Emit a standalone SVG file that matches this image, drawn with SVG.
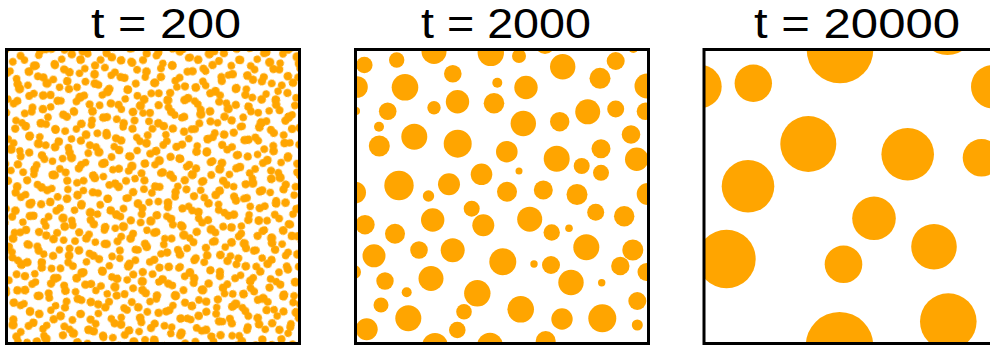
<svg xmlns="http://www.w3.org/2000/svg" width="990" height="347" viewBox="0 0 990 347">
<style>
.t{font-family:"Liberation Sans",Arial,sans-serif;font-size:42px;fill:#000}
.d circle{fill:#FFA500}
.p circle{fill:#FFA500;stroke:#FFA500;stroke-width:1}
.frame{fill:none;stroke:#000;stroke-width:3}
</style>
<defs>
<pattern id="dotsA" patternUnits="userSpaceOnUse" x="7" y="50" width="61" height="61" patternTransform="rotate(8)">
<g class="p">
<circle cx="5.2" cy="9.8" r="3.7"/><circle cx="25.6" cy="6.1" r="3.4"/><circle cx="36.0" cy="10.4" r="4.0"/><circle cx="55.9" cy="5.6" r="3.5"/>
<circle cx="9.9" cy="21.0" r="3.9"/><circle cx="20.4" cy="25.7" r="3.5"/><circle cx="41.2" cy="20.3" r="3.6"/><circle cx="51.1" cy="25.9" r="4.1"/>
<circle cx="6.4" cy="41.3" r="3.4"/><circle cx="24.8" cy="35.2" r="4.1"/><circle cx="35.3" cy="40.9" r="3.6"/><circle cx="56.2" cy="37.0" r="3.8"/>
<circle cx="10.6" cy="54.7" r="3.8"/><circle cx="21.0" cy="50.6" r="3.6"/><circle cx="39.9" cy="56.3" r="3.5"/><circle cx="50.7" cy="52.1" r="3.9"/>
</g>
</pattern>
<pattern id="dotsB" patternUnits="userSpaceOnUse" x="3" y="41" width="53" height="53" patternTransform="rotate(-13)">
<g class="p">
<circle cx="8.9" cy="4.8" r="3.5"/><circle cx="17.6" cy="8.7" r="3.9"/><circle cx="35.4" cy="4.4" r="3.4"/><circle cx="44.2" cy="8.3" r="3.7"/>
<circle cx="4.5" cy="18.0" r="3.6"/><circle cx="22.3" cy="21.6" r="3.4"/><circle cx="30.5" cy="17.2" r="3.8"/><circle cx="48.6" cy="22.1" r="3.5"/>
<circle cx="9.1" cy="35.3" r="4.0"/><circle cx="17.4" cy="31.0" r="3.5"/><circle cx="35.9" cy="34.8" r="3.7"/><circle cx="43.8" cy="30.6" r="3.4"/>
<circle cx="5.0" cy="48.3" r="3.4"/><circle cx="21.9" cy="44.2" r="3.7"/><circle cx="31.0" cy="48.4" r="3.5"/><circle cx="48.4" cy="45.0" r="3.9"/>
</g>
</pattern>
<clipPath id="c2"><rect x="355.5" y="49.5" width="293" height="294"/></clipPath>
<clipPath id="c3"><rect x="704" y="49.5" width="293" height="294"/></clipPath>
</defs>
<rect width="990" height="347" fill="#fff"/>
<g id="titles">
<text class="t" x="91" y="38" textLength="150" lengthAdjust="spacingAndGlyphs">t = 200</text>
<text class="t" x="421" y="38" textLength="170" lengthAdjust="spacingAndGlyphs">t = 2000</text>
<text class="t" x="754" y="38" textLength="206" lengthAdjust="spacingAndGlyphs">t = 20000</text>
</g>
<g id="panel1">
<rect x="6.5" y="49.5" width="293" height="294" fill="url(#dotsA)"/>
<rect x="6.5" y="49.5" width="293" height="294" fill="url(#dotsB)"/>
<rect class="frame" x="6.5" y="49.5" width="293" height="294"/>
</g>
<g id="panel2">
<g class="d" clip-path="url(#c2)">
<circle cx="364.3" cy="65" r="8.3"/><circle cx="396.7" cy="60" r="7.7"/><circle cx="434" cy="51.5" r="12.5"/><circle cx="490.8" cy="52.8" r="13.2"/><circle cx="452.8" cy="73.8" r="8.8"/><circle cx="497.3" cy="82.7" r="5"/><circle cx="357" cy="87" r="10.8"/><circle cx="405" cy="87.3" r="13.3"/><circle cx="457.5" cy="101.7" r="11.7"/><circle cx="494" cy="103.3" r="10.3"/><circle cx="434" cy="107.7" r="6.7"/><circle cx="387.7" cy="111.3" r="8.8"/><circle cx="356" cy="111" r="4"/><circle cx="379" cy="126.7" r="5"/><circle cx="414.3" cy="136.7" r="13"/><circle cx="457.7" cy="143.7" r="14"/><circle cx="379.3" cy="146" r="10.5"/><circle cx="506.8" cy="151.7" r="10.8"/><circle cx="399" cy="185.5" r="14.7"/><circle cx="481.5" cy="174.3" r="10.8"/><circle cx="449" cy="184.2" r="11"/><circle cx="428.5" cy="196" r="5.7"/><circle cx="355.2" cy="192.5" r="10.8"/><circle cx="507" cy="191.7" r="10"/>
<circle cx="519" cy="56" r="7"/><circle cx="545" cy="44" r="10"/><circle cx="562.7" cy="66.7" r="12.7"/><circle cx="615.7" cy="61" r="9"/><circle cx="633.3" cy="48" r="5"/><circle cx="600" cy="78.3" r="10.5"/><circle cx="526" cy="87.5" r="11.7"/><circle cx="647" cy="86" r="12.5"/><circle cx="587.7" cy="111.8" r="12.5"/><circle cx="615.7" cy="109" r="8.5"/><circle cx="645.4" cy="111.3" r="8.7"/><circle cx="523.3" cy="123.5" r="12.7"/><circle cx="559.7" cy="121.7" r="9.7"/><circle cx="631" cy="134.5" r="9.3"/><circle cx="556.7" cy="158.8" r="13"/><circle cx="601" cy="148.7" r="9.5"/><circle cx="581.7" cy="166" r="8"/><circle cx="636.7" cy="159.2" r="11.7"/><circle cx="519" cy="171" r="3.5"/><circle cx="601" cy="172.8" r="8"/><circle cx="543.3" cy="190" r="9.5"/><circle cx="577" cy="194.5" r="10.5"/><circle cx="647.7" cy="194" r="11"/>
<circle cx="365" cy="224.7" r="9.7"/><circle cx="395" cy="233.7" r="10"/><circle cx="432.7" cy="220" r="11.7"/><circle cx="471.7" cy="208.7" r="8"/><circle cx="483.3" cy="225.2" r="11"/><circle cx="374" cy="255.8" r="11.5"/><circle cx="419" cy="250" r="8.8"/><circle cx="452.7" cy="250.3" r="12"/><circle cx="502.8" cy="261.7" r="13.5"/><circle cx="354" cy="272" r="7"/><circle cx="385" cy="281" r="8.7"/><circle cx="431" cy="278.5" r="12.5"/><circle cx="406.7" cy="292.3" r="5"/><circle cx="477.3" cy="293.3" r="13.2"/><circle cx="381" cy="305" r="7.5"/><circle cx="408.3" cy="318.3" r="13"/><circle cx="464" cy="311.7" r="7.8"/><circle cx="366.7" cy="329.3" r="11"/><circle cx="457.3" cy="330" r="8.3"/><circle cx="435" cy="346" r="13"/><circle cx="490" cy="345.7" r="13"/>
<circle cx="529.7" cy="219.2" r="12.5"/><circle cx="595.7" cy="212.2" r="8.5"/><circle cx="624.2" cy="216.3" r="10.2"/><circle cx="551.7" cy="232.5" r="8.2"/><circle cx="569" cy="228.3" r="3.8"/><circle cx="586.3" cy="247.2" r="13"/><circle cx="632.8" cy="250" r="10.5"/><circle cx="534" cy="264" r="3.7"/><circle cx="551" cy="265" r="9"/><circle cx="571" cy="282.5" r="12.7"/><circle cx="601.7" cy="282.7" r="3.7"/><circle cx="620.3" cy="266" r="9.2"/><circle cx="646.5" cy="272" r="9"/><circle cx="520.7" cy="309.3" r="13.3"/><circle cx="562" cy="319" r="10.7"/><circle cx="602.3" cy="318.3" r="14"/><circle cx="637.3" cy="301" r="9"/><circle cx="637.3" cy="325" r="5.5"/><circle cx="545.7" cy="341" r="10"/>
</g>
<rect class="frame" x="355.5" y="49.5" width="293" height="294"/>
</g>
<g id="panel3">
<g class="d" clip-path="url(#c3)">
<circle cx="700" cy="86.5" r="21.7"/><circle cx="753.3" cy="83.3" r="18.7"/><circle cx="840" cy="50" r="33.3"/><circle cx="808.3" cy="144" r="28"/><circle cx="748" cy="186.3" r="26.3"/><circle cx="726.5" cy="259" r="29.2"/><circle cx="843.5" cy="264.3" r="18.8"/><circle cx="839.5" cy="345.8" r="33.8"/><circle cx="874" cy="218.3" r="21.8"/><circle cx="934" cy="246.7" r="22.8"/><circle cx="948.3" cy="321.6" r="28.3"/><circle cx="947.5" cy="27.5" r="27.5"/><circle cx="992.7" cy="86.7" r="21.7"/><circle cx="981.5" cy="157.8" r="18.8"/><circle cx="907.7" cy="154.3" r="26.3"/>
</g>
<rect class="frame" x="704" y="49.5" width="293" height="294"/>
</g>
</svg>
